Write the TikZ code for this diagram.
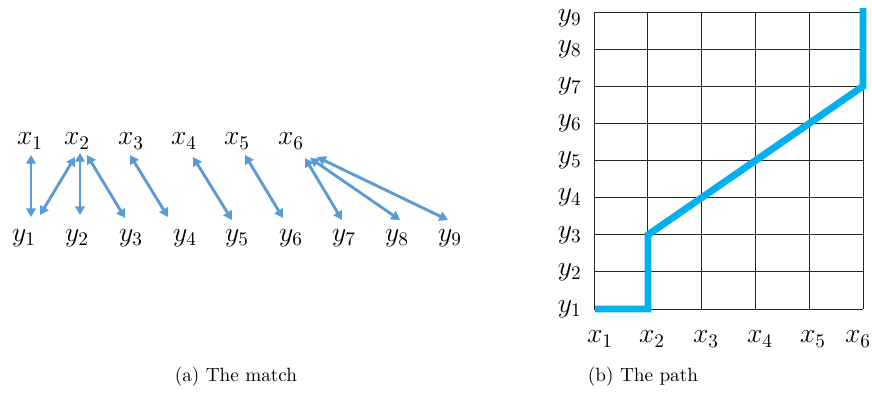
\documentclass[tikz,border=0pt]{standalone}
\usepackage{amsmath}
\usepackage{xcolor}
\definecolor{matchblue}{HTML}{5B9BD5}
\definecolor{pathcyan}{HTML}{00B0F0}
\usetikzlibrary{arrows.meta}

\begin{document}
\begin{tikzpicture}[x=0.52pt,y=-0.52pt,
                    lbl/.style={inner sep=0pt,font=\Large},
                    match/.style={{Triangle[length=4.5pt,width=5pt]}-{Triangle[length=4.5pt,width=5pt]},line width=1.5pt,draw=matchblue},
                    gridline/.style={line width=0.5pt,black!85},
                    walk/.style={line width=3.6pt,draw=pathcyan}]
  \useasboundingbox (0,0) rectangle (872,394);
  % (a) the match
  \node[lbl] (x1) at (30,141) {$x_1$};
  \node[lbl] (x2) at (77,141) {$x_2$};
  \node[lbl] (x3) at (131,141) {$x_3$};
  \node[lbl] (x4) at (184,141) {$x_4$};
  \node[lbl] (x5) at (237,141) {$x_5$};
  \node[lbl] (x6) at (291,141) {$x_6$};
  \node[lbl] (y1) at (24,238) {$y_1$};
  \node[lbl] (y2) at (77,238) {$y_2$};
  \node[lbl] (y3) at (131,238) {$y_3$};
  \node[lbl] (y4) at (185,238) {$y_4$};
  \node[lbl] (y5) at (237,238) {$y_5$};
  \node[lbl] (y6) at (291,238) {$y_6$};
  \node[lbl] (y7) at (344,238) {$y_7$};
  \node[lbl] (y8) at (397,238) {$y_8$};
  \node[lbl] (y9) at (450,238) {$y_9$};

  \draw[match] ([shift={(1,14)}]x1.center) -- ([shift={(7,-21)}]y1.center);
  \draw[match] ([shift={(-2,16)}]x2.center) -- ([shift={(16,-23)}]y1.center);
  \draw[match] ([shift={(3,12)}]x2.center) -- ([shift={(3,-23)}]y2.center);
  \draw[match] ([shift={(10,14)}]x2.center) -- ([shift={(-6,-20)}]y3.center);
  \draw[match] ([shift={(-1,14)}]x3.center) -- ([shift={(-17,-21)}]y4.center);
  \draw[match] ([shift={(9,16)}]x4.center) -- ([shift={(-5,-18)}]y5.center);
  \draw[match] ([shift={(8,14)}]x5.center) -- ([shift={(-8,-20)}]y6.center);
  \draw[match] ([shift={(14,17)}]x6.center) -- ([shift={(-2,-18)}]y7.center);
  \draw[match] ([shift={(19,17)}]x6.center) -- ([shift={(3,-18)}]y8.center);
  \draw[match] ([shift={(26,16)}]x6.center) -- ([shift={(-2,-18)}]y9.center);

  \node (capa) at (236,377) {(a) The match};

  % (b) the path
  \foreach \c in {594,647.8,701.6,755.4,809.2,863}
    \draw[gridline] (\c,12) -- (\c,309);
  \foreach \r in {12,49.125,86.25,123.375,160.5,197.625,234.75,271.875,309}
    \draw[gridline] (594,\r) -- (863,\r);

  \node[lbl,anchor=east] (gy1) at (582,309) {$y_1$};
  \node[lbl,anchor=east] (gy2) at (582,271.875) {$y_2$};
  \node[lbl,anchor=east] (gy3) at (582,234.75) {$y_3$};
  \node[lbl,anchor=east] (gy4) at (582,197.625) {$y_4$};
  \node[lbl,anchor=east] (gy5) at (582,160.5) {$y_5$};
  \node[lbl,anchor=east] (gy6) at (582,123.375) {$y_6$};
  \node[lbl,anchor=east] (gy7) at (582,86.25) {$y_7$};
  \node[lbl,anchor=east] (gy8) at (582,49.125) {$y_8$};
  \node[lbl,anchor=east] (gy9) at (582,18) {$y_9$};
  \node[lbl] (gx1) at (600,339) {$x_1$};
  \node[lbl] (gx2) at (652,339) {$x_2$};
  \node[lbl] (gx3) at (706,339) {$x_3$};
  \node[lbl] (gx4) at (760,339) {$x_4$};
  \node[lbl] (gx5) at (813,339) {$x_5$};
  \node[lbl] (gx6) at (858,339) {$x_6$};

  \draw[walk] (595,309) -- (648,309) -- (648,234.75) -- (863,86.25) -- (863,8);

  \node (capb) at (643,377) {(b) The path};
\end{tikzpicture}
\end{document}
